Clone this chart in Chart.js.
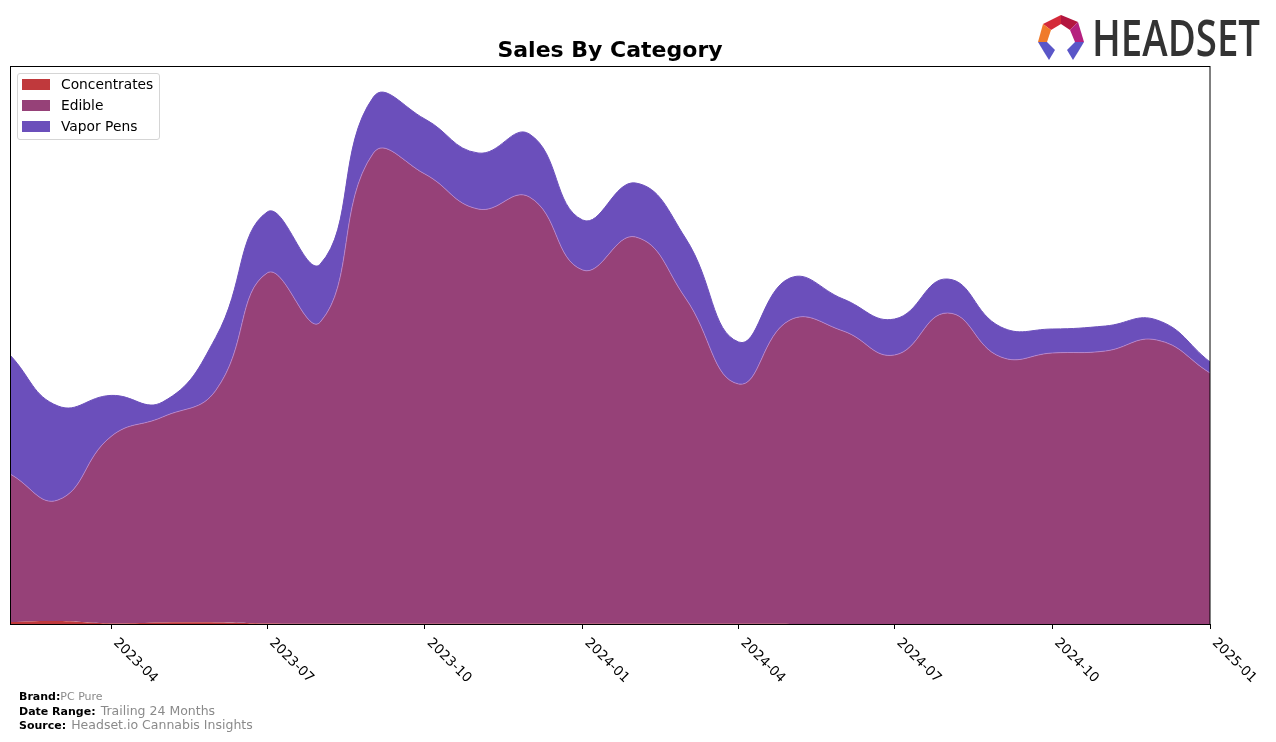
<!DOCTYPE html>
<html><head><meta charset="utf-8">
<script src="https://cdn.jsdelivr.net/npm/chart.js@4.4.1/dist/chart.umd.min.js"></script>
<style>
html,body{margin:0;padding:0;background:#fff;width:1276px;height:742px;overflow:hidden;font-family:"DejaVu Sans",sans-serif;}
#wrap{position:relative;width:1276px;height:742px;}
#c{position:absolute;left:0;top:0;}
.legend{position:absolute;left:17px;top:73px;width:143px;height:67px;border:1px solid #d5d5d5;border-radius:3px;background:rgba(255,255,255,0.9);box-sizing:border-box;}
.legend .sw{position:absolute;left:4px;width:28px;height:11px;}
.legend .lt{position:absolute;left:43px;height:16px;line-height:16px;font-size:13.8px;color:#000;white-space:nowrap;}
.foot{position:absolute;left:19px;height:14px;line-height:14px;white-space:nowrap;color:#000;}
.foot b{font-size:11px;font-weight:bold;}
.foot .s{font-size:11px;color:#8a8a8a;}
.foot .m{font-size:12.5px;color:#8a8a8a;}
#logo{position:absolute;left:1030px;top:8px;}
</style>
</head><body>
<div id="wrap">
<canvas id="c" width="1276" height="742"></canvas>
<div class="legend" id="legend"></div>
<div class="foot" style="top:688px"><b>Brand:</b><span class="s">PC Pure</span></div>
<div class="foot" style="top:703px"><b>Date Range:</b> <span class="m">Trailing 24 Months</span></div>
<div class="foot" style="top:717px"><b>Source:</b> <span class="m">Headset.io Cannabis Insights</span></div>
<svg id="logo" width="240" height="60" viewBox="0 0 240 60">
  <polygon points="13,16 31,7 31,16 21,22" fill="#d42a3a"/>
  <polygon points="31,7 48,14 40,22 31,16" fill="#b3163f"/>
  <polygon points="48,14 54,34 45,34 40,22" fill="#b5207f"/>
  <polygon points="13,16 21,22 17,34 8,34" fill="#f07a2a"/>
  <polygon points="8,34 17,34 25,42 19,52" fill="#5a56c8"/>
  <polygon points="8,34 19,52 14,44" fill="#2d2a80"/>
  <polygon points="45,34 54,34 43,52 37,42" fill="#5a56c8"/>
  <polygon points="54,34 43,52 48,44" fill="#2d2a80"/>
  <text x="62" y="48" font-family="Open Sans, DejaVu Sans, sans-serif" font-weight="600" font-size="50" fill="#333" textLength="168" lengthAdjust="spacingAndGlyphs">HEADSET</text>
</svg>
</div>
<script>
// ---- data ----
const months = ['2023-02','2023-03','2023-04','2023-05','2023-06','2023-07','2023-08','2023-09','2023-10','2023-11','2023-12',
  '2024-01','2024-02','2024-03','2024-04','2024-05','2024-06','2024-07','2024-08','2024-09','2024-10','2024-11','2024-12','2025-01'];
const concentrates = [2, 3, 0.6, 1.5, 1.5, 0.5, 0.3, 0.2, 0.2, 0.2, 0.3, 0.3, 0.3, 0.2, 0.2, 0.1, 0.1, 0.1, 0.1, 0.1, 0.1, 0.1, 0.1, 0.1];
const edible = [148, 121, 187, 205.5, 232, 350.5, 301.7, 470.8, 449.8, 414.8, 426.7, 353.7, 386.7, 325.8, 239.8, 303.9, 292.9, 268.9, 310.9, 266.9, 270.9, 272.9, 283.9, 250.9];
const vaporPens = [119, 94, 41, 15, 53, 61, 58, 56, 55, 56, 63, 50, 54, 60, 42, 42, 32, 36, 34, 30, 24, 25, 20, 11];
const tickLabels = ['2023-04','2023-07','2023-10','2024-01','2024-04','2024-07','2024-10','2025-01'];
const seriesNames = ['Concentrates','Edible','Vapor Pens'];
const seriesColors = ['#c0393c','#964178','#6b4fbb'];

function toTime(s){const p=s.split('-').map(Number);return Date.UTC(p[0],p[1]-1,1);}
const xs = months.map(toTime);
const tickValues = tickLabels.map(toTime);
const seriesData = [concentrates, edible, vaporPens];
const borders = ['rgba(0,0,0,0)','rgba(185,140,215,0.75)','#6b4fbb'];

// legend (HTML)
const lg = document.getElementById('legend');
seriesNames.forEach((n,i)=>{
  const cy = 10 + i*21;
  const sw = document.createElement('span'); sw.className='sw'; sw.style.top=(cy-5.5)+'px'; sw.style.background=seriesColors[i]; lg.appendChild(sw);
  const t = document.createElement('span'); t.className='lt'; t.style.top=(cy-8)+'px'; t.textContent=n; lg.appendChild(t);
});

const framePlugin = {
  id:'frame',
  afterDatasetsDraw(chart){
    const {ctx, chartArea:a} = chart;
    ctx.save();
    ctx.strokeStyle='#000'; ctx.lineWidth=1;
    ctx.strokeRect(Math.round(a.left)+0.5, Math.round(a.top)+0.5, Math.round(a.right-a.left)-0.5, Math.round(a.bottom-a.top));
    // title
    ctx.fillStyle='#000';
    ctx.font='bold 22px "DejaVu Sans", sans-serif';
    ctx.textAlign='center'; ctx.textBaseline='alphabetic';
    ctx.fillText('Sales By Category', (a.left+a.right)/2, 57);
    // rotated tick labels
    const sx = chart.scales.x;
    ctx.font='13.5px "DejaVu Sans", sans-serif';
    ctx.textAlign='left'; ctx.textBaseline='top';
    tickValues.forEach((v,i)=>{
      const px = sx.getPixelForValue(v);
      ctx.save();
      ctx.translate(px+9, a.bottom+12);
      ctx.rotate(Math.PI/4);
      ctx.fillText(tickLabels[i], 0, 0);
      ctx.restore();
    });
    ctx.restore();
  }
};

new Chart(document.getElementById('c'), {
  type:'line',
  data:{
    datasets: seriesNames.map((n,i)=>({
      label:n,
      data: seriesData[i].map((v,j)=>({x:xs[j], y:v})),
      backgroundColor: seriesColors[i],
      borderColor: borders[i],
      borderWidth: 1,
      fill: i===0 ? 'origin' : '-1',
      pointRadius:0,
      tension:0.45
    }))
  },
  options:{
    responsive:false,
    animation:false,
    events:[],
    layout:{padding:{left:10,right:66,top:66,bottom:0}},
    scales:{
      x:{
        type:'linear', min:xs[0], max:xs[xs.length-1],
        afterBuildTicks:s=>{ s.ticks = tickValues.map(v=>({value:v})); },
        afterFit:s=>{ s.height = 118; },
        ticks:{display:false},
        grid:{drawOnChartArea:false, drawTicks:true, tickLength:5, color:'#000', lineWidth:1},
        border:{display:true, color:'#000', width:1}
      },
      y:{stacked:true, display:false, min:0, max:558}
    },
    plugins:{legend:{display:false}, tooltip:{enabled:false}, title:{display:false}}
  },
  plugins:[framePlugin]
});
</script>
</body></html>
